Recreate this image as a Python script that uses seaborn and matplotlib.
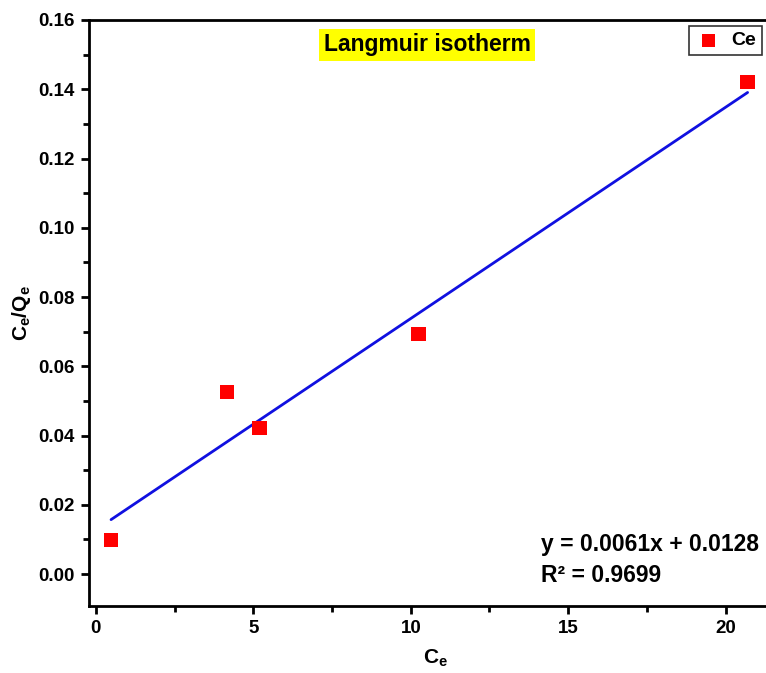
import matplotlib
matplotlib.use("Agg")
import matplotlib.pyplot as plt
import seaborn as sns
import numpy as np
import pandas as pd

# Langmuir isotherm data
ce = [0.48, 4.16, 5.20, 10.25, 20.70]
ce_qe = [0.0098, 0.0526, 0.0422, 0.0693, 0.1421]
slope = 0.0061
intercept = 0.0128
r_squared = 0.9699

sns.set_theme(style="white")
plt.rcParams["font.family"] = ["Liberation Sans", "DejaVu Sans"]
plt.rcParams["font.weight"] = "bold"
plt.rcParams["text.color"] = "black"
plt.rcParams["axes.labelcolor"] = "black"
plt.rcParams["xtick.color"] = "black"
plt.rcParams["ytick.color"] = "black"
plt.rcParams["mathtext.fontset"] = "custom"
plt.rcParams["mathtext.rm"] = "Liberation Sans:bold"
plt.rcParams["mathtext.it"] = "Liberation Sans:bold"
plt.rcParams["mathtext.bf"] = "Liberation Sans:bold"

df = pd.DataFrame({"Ce": ce, "CeQe": ce_qe})
x_fit = np.array([min(ce), max(ce)])
fit = pd.DataFrame({"x": x_fit, "y": slope * x_fit + intercept})

fig = plt.figure(figsize=(7.66, 6.73), dpi=100)
ax = fig.add_axes([0.1162, 0.0996, 0.905, 0.8707])

sns.lineplot(data=fit, x="x", y="y", ax=ax, color="#1010e0", lw=2, legend=False)
sns.scatterplot(data=df, x="Ce", y="CeQe", ax=ax, marker="s", s=110,
                color="#ff0000", edgecolor="none", label="Ce", zorder=3)

ax.set_xlim(-0.22, 21.8)
ax.set_ylim(-0.0092, 0.16)
ax.set_xticks([0, 5, 10, 15, 20])
ax.set_xticks([2.5, 7.5, 12.5, 17.5], minor=True)
ax.set_yticks(np.arange(0, 0.161, 0.02))
ax.set_yticks(np.arange(0.01, 0.16, 0.02), minor=True)
ax.set_yticklabels([f"{v:.2f}" for v in np.arange(0, 0.161, 0.02)])
ax.tick_params(axis="both", which="major", direction="out", length=6, width=2,
               labelsize=13.5, color="black", left=True, bottom=True, pad=4)
ax.tick_params(axis="both", which="minor", direction="out", length=4, width=2,
               color="black", left=True, bottom=True)
for lab in ax.get_xticklabels() + ax.get_yticklabels():
    lab.set_fontweight("bold")
for sp in ax.spines.values():
    sp.set_linewidth(2)
    sp.set_color("black")

ax.set_xlabel(r"C$_\mathregular{e}$", fontsize=15, fontweight="bold", labelpad=8)
ax.set_ylabel(r"C$_\mathregular{e}$/Q$_\mathregular{e}$", fontsize=15,
              fontweight="bold", labelpad=4)

ax.text(427 / 766, 1 - 45 / 673, "Langmuir isotherm", transform=fig.transFigure,
        ha="center", va="center", fontsize=16.5, fontweight="bold",
        bbox=dict(facecolor="#ffff00", edgecolor="none", pad=3.5))

ax.text(541 / 766, 1 - 545 / 673, f"y = {slope}x + {intercept}",
        transform=fig.transFigure, ha="left", va="center",
        fontsize=16.5, fontweight="bold")
ax.text(541 / 766, 1 - 575 / 673, f"R² = {r_squared}",
        transform=fig.transFigure, ha="left", va="center",
        fontsize=16.5, fontweight="bold")

leg = ax.legend(loc="upper right", bbox_to_anchor=(762 / 766, 1 - 26 / 673),
                bbox_transform=fig.transFigure, borderaxespad=0,
                frameon=True, fancybox=False,
                fontsize=14, handletextpad=0.5, borderpad=0.3,
                handlelength=1.4, markerscale=0.9)
leg.get_frame().set_edgecolor("black")
leg.get_frame().set_linewidth(1.2)
for t in leg.get_texts():
    t.set_fontweight("bold")

fig.savefig("out.png", dpi=100)
